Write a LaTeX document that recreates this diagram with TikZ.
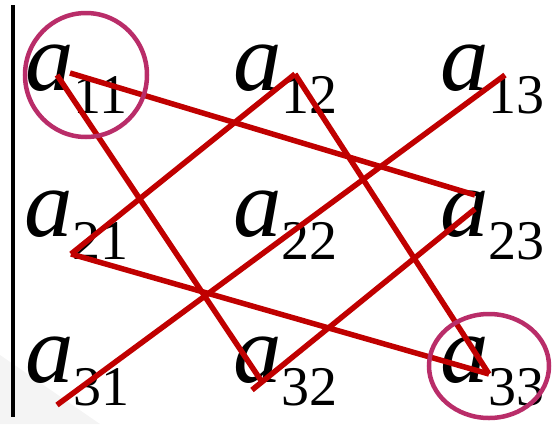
\documentclass[tikz,border=0pt]{standalone}
\usepackage{fontspec}
\setmainfont{Liberation Serif}
\newcommand{\matent}[1]{\textit{a}\raisebox{-23pt}{\fontsize{56pt}{56pt}\selectfont #1}}
\definecolor{linered}{RGB}{192,0,0}
\definecolor{ringcol}{RGB}{185,45,105}
\begin{document}
\begin{tikzpicture}[x=1pt,y=-1pt,
  entry/.style={anchor=base west,inner sep=0pt,outer sep=0pt,font=\fontsize{97pt}{97pt}\selectfont},
  conn/.style={draw=linered,line width=5.5pt},
  ring/.style={draw=ringcol,line width=4.5pt},
  bar/.style={draw=black,line width=3.5pt}]
\useasboundingbox (0,0) rectangle (555,424);
\fill[gray!9] (0,355) -- (100,424) -- (0,424) -- cycle;
% vertical bar
\coordinate (bt) at (13,5);
\coordinate (bb) at (13,417);
\draw[bar] (bt) -- (bb);
% entries
\node[entry] (a11) at (25,90) {\matent{11}};
\node[entry] (a12) at (233,90) {\matent{12}};
\node[entry] (a13) at (440,90) {\matent{13}};
\node[entry] (a21) at (24,236) {\matent{21}};
\node[entry] (a22) at (233,236) {\matent{22}};
\node[entry] (a23) at (440,236) {\matent{23}};
\node[entry] (a31) at (25,382) {\matent{31}};
\node[entry] (a32) at (233,382) {\matent{32}};
\node[entry] (a33) at (440,382) {\matent{33}};
% connector end points
\coordinate (p11b) at (57,75);
\coordinate (p11a) at (70,73);
\coordinate (p12) at (295,74);
\coordinate (p13) at (505,75);
\coordinate (p21) at (71,254);
\coordinate (p23a) at (475,195);
\coordinate (p23g) at (475,209);
\coordinate (p31) at (57,405);
\coordinate (p32b) at (262,382);
\coordinate (p32g) at (252,390);
\coordinate (p33) at (489,374);
% connectors
\draw[conn] (p11a) -- (p23a);
\draw[conn] (p11b) -- (p32b);
\draw[conn] (p12) -- (p21);
\draw[conn] (p12) -- (p33);
\draw[conn] (p13) -- (p31);
\draw[conn] (p21) -- (p33);
\draw[conn] (p32g) -- (p23g);
% rings
\draw[ring] (86,75) ellipse [x radius=61,y radius=62];
\draw[ring] (489,366) ellipse [x radius=60,y radius=52];
\end{tikzpicture}
\end{document}
